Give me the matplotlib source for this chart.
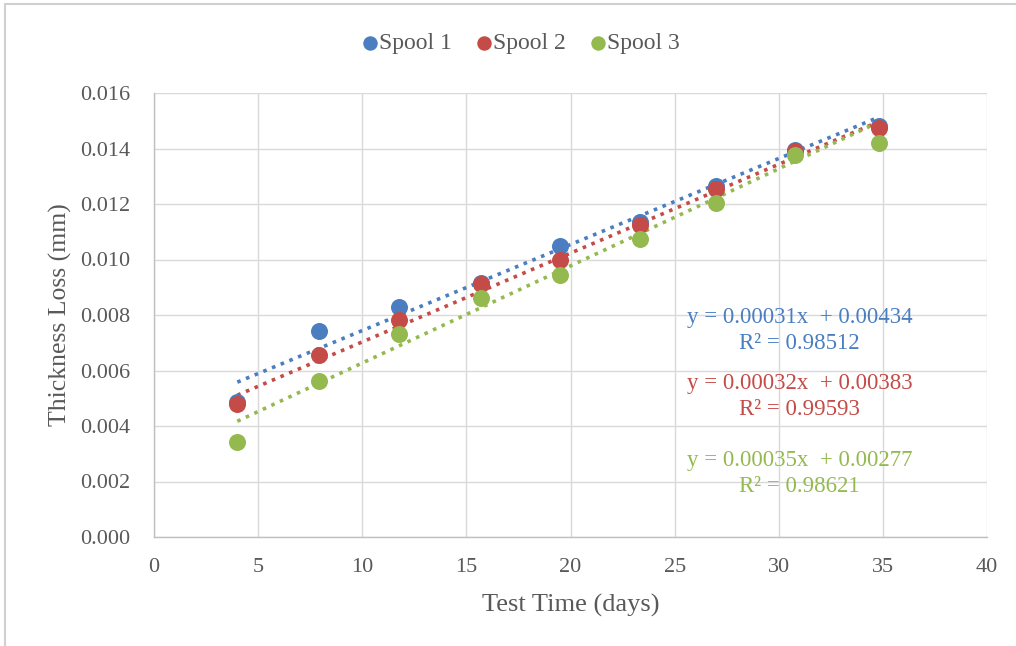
import matplotlib
matplotlib.use("Agg")
import matplotlib.pyplot as plt
from matplotlib.patches import Rectangle
import numpy as np

# Test days at which thickness was measured
days = [4.0, 7.9, 11.75, 15.7, 19.5, 23.35, 27.0, 30.8, 34.8]

# Thickness loss (mm) for each spool
spool1 = [0.00485, 0.00742, 0.00829, 0.00915, 0.01049, 0.01135, 0.01265, 0.01395, 0.01481]
spool2 = [0.00479, 0.00656, 0.00782, 0.00912, 0.00998, 0.01124, 0.01254, 0.01391, 0.01474]
spool3 = [0.00342, 0.00562, 0.00732, 0.00861, 0.00944, 0.01074, 0.01204, 0.01377, 0.01420]

# Linear trendline coefficients (slope, intercept) and R^2
slopes = [0.00031, 0.00032, 0.00035]
intercepts = [0.00434, 0.00383, 0.00277]
r2_values = [0.98512, 0.99593, 0.98621]

names = ["Spool 1", "Spool 2", "Spool 3"]
colors = ["#4A7EC0", "#C44B47", "#94BA4F"]

x_ticks = [0, 5, 10, 15, 20, 25, 30, 35, 40]
y_ticks = [0.000, 0.002, 0.004, 0.006, 0.008, 0.010, 0.012, 0.014, 0.016]

text_color = "#595959"
plt.rcParams["font.family"] = ["Liberation Serif", "DejaVu Serif"]

fig = plt.figure(figsize=(10.16, 6.46), dpi=100)
fig.patch.set_facecolor("white")
# Chart-area border (open to the right and bottom edges)
fig.patches.append(Rectangle((5 / 1016, -0.05), 1.1, 1 - 4 / 646 + 0.05,
                             transform=fig.transFigure, fill=False,
                             edgecolor="#D0D0D0", linewidth=1.5))

ax = fig.add_axes([154 / 1016, 1 - 537 / 646, 833 / 1016, 444 / 646])
ax.set_xlim(0, 40)
ax.set_ylim(0, 0.016)
ax.set_xticks(x_ticks)
ax.set_yticks(y_ticks)
ax.set_xticklabels([str(t) for t in x_ticks])
ax.set_yticklabels([f"{t:.3f}" for t in y_ticks])
ax.grid(True, color="#D9D9D9", linewidth=1.0)
ax.set_axisbelow(True)
for side in ["top", "right"]:
    ax.spines[side].set_visible(False)
for side in ["left", "bottom"]:
    ax.spines[side].set_color("#BFBFBF")
    ax.spines[side].set_linewidth(1.0)
ax.tick_params(length=0, labelsize=16, colors=text_color)
ax.tick_params(axis="y", pad=17)
ax.tick_params(axis="x", pad=15)

series = [spool1, spool2, spool3]
x_line = np.array([days[0], days[-1]])
for m, b, c in zip(slopes, intercepts, colors):
    ax.plot(x_line, m * x_line + b, linestyle=(0, (1, 1.6)), color=c,
            linewidth=2.6, zorder=2)
for vals, c, n in zip(series, colors, names):
    ax.scatter(days, vals, s=150, color=c, zorder=3, label=n, linewidths=0)

ax.set_xlabel("Test Time (days)", fontsize=19, color=text_color, labelpad=12)
ax.set_ylabel("Thickness Loss (mm)", fontsize=18.5, color=text_color, labelpad=6)

# Trendline equations
eq_y = [0.00743, 0.00505, 0.00228]
for m, b, r2, c, yy in zip(slopes, intercepts, r2_values, colors, eq_y):
    ax.text(31.0, yy, f"y = {m:.5f}x  + {b:.5f}\nR² = {r2:.5f}",
            color=c, fontsize=16.5, ha="center", va="center", linespacing=1.3)

leg = fig.legend(loc="center", bbox_to_anchor=(513 / 1016, 1 - 43 / 646), ncol=3,
                 frameon=False, fontsize=17, handletextpad=-0.6,
                 columnspacing=0.35, markerscale=0.85, borderaxespad=0)
for t in leg.get_texts():
    t.set_color(text_color)

fig.savefig("out.png", dpi=100, facecolor="white")
